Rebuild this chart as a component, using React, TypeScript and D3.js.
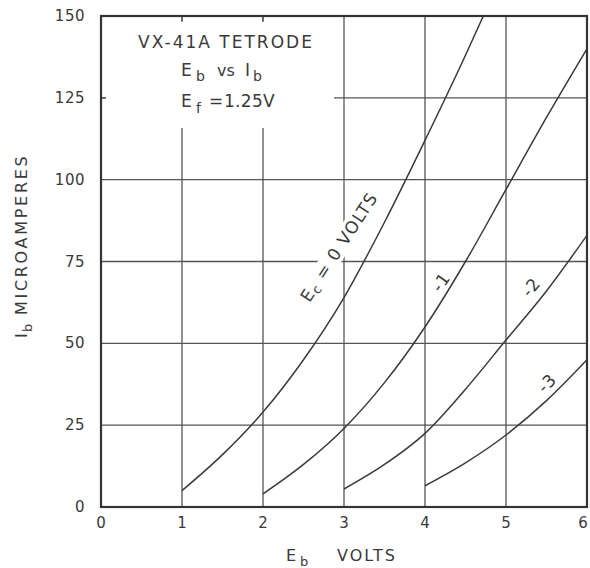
import React from "react";
import * as d3 from "d3";

const xTicks = [0, 1, 2, 3, 4, 5, 6];
const yTicks = [0, 25, 50, 75, 100, 125, 150];

const ec0Eb = [1, 1.5, 2, 2.5, 3, 3.5, 4, 4.5, 4.72];
const ec0Ib = [5, 16, 29, 45, 64, 87, 112, 138, 150];
const ecm1Eb = [2, 2.5, 3, 3.5, 4, 4.5, 5, 5.5, 6];
const ecm1Ib = [4, 13, 24, 38, 55, 75, 97, 119, 140];
const ecm2Eb = [3, 3.5, 4, 4.5, 5, 5.5, 6];
const ecm2Ib = [5.5, 13, 22.5, 36, 51, 66, 83];
const ecm3Eb = [4, 4.5, 5, 5.5, 6];
const ecm3Ib = [6.5, 13.5, 22, 32.5, 45];

const seriesList = [
  { eb: ec0Eb, ib: ec0Ib },
  { eb: ecm1Eb, ib: ecm1Ib },
  { eb: ecm2Eb, ib: ecm2Ib },
  { eb: ecm3Eb, ib: ecm3Ib },
];

const FONT = "'DejaVu Sans', sans-serif";
const INK = "#3a3a3a";

export default function App() {
  const left = 101, right = 587, top = 16, bottom = 507;
  const x = d3.scaleLinear().domain([0, 6]).range([left, right]);
  const y = d3.scaleLinear().domain([0, 150]).range([bottom, top]);
  const line = d3
    .line<[number, number]>()
    .x((d) => x(d[0]))
    .y((d) => y(d[1]))
    .curve(d3.curveMonotoneX);

  const labels = [
    { text: "E", sub: "c", rest: " = 0  VOLTS", cx: 339, cy: 247, rot: -57, w: 120 },
    { text: "-1", cx: 441, cy: 282, rot: -55, w: 24 },
    { text: "-2", cx: 531, cy: 287, rot: -50, w: 26 },
    { text: "-3", cx: 547, cy: 383, rot: -45, w: 26 },
  ];

  return (
    <svg width={590} height={568} style={{ position: "absolute", left: 0, top: 0, background: "#fff" }}>
      <defs>
        <clipPath id="plot">
          <rect x={left} y={top} width={right - left} height={bottom - top} />
        </clipPath>
      </defs>
      <rect x={0} y={0} width={590} height={568} fill="#fff" />
      {/* grid */}
      <g stroke="#555" strokeWidth={1.3}>
        {xTicks.slice(1, -1).map((t) => (
          <line key={"vx" + t} x1={x(t)} x2={x(t)} y1={top} y2={bottom} />
        ))}
        {yTicks.slice(1, -1).map((t) => (
          <line key={"hy" + t} x1={left} x2={right} y1={y(t)} y2={y(t)} />
        ))}
      </g>
      {/* blank area for title */}
      <rect x={106} y={21} width={228} height={107} fill="#fff" />
      {/* blank areas for curve labels */}
      {labels.map((l, i) => (
        <rect
          key={"bg" + i}
          x={-l.w / 2}
          y={-10}
          width={l.w}
          height={20}
          fill="#fff"
          transform={`translate(${l.cx},${l.cy}) rotate(${l.rot})`}
        />
      ))}
      {/* short stubs at title area */}
      <g stroke="#555" strokeWidth={1.3}>
        <line x1={x(1)} x2={x(1)} y1={top} y2={top + 6} />
        <line x1={x(2)} x2={x(2)} y1={top} y2={top + 6} />
        <line x1={left} x2={left + 5} y1={y(125)} y2={y(125)} />
      </g>
      {/* curves */}
      <g clipPath="url(#plot)" fill="none" stroke={INK} strokeWidth={1.5}>
        {seriesList.map((s, i) => (
          <path key={i} d={line(s.eb.map((e, j) => [e, s.ib[j]] as [number, number])) || ""} />
        ))}
      </g>
      {/* frame */}
      <rect x={left} y={top} width={right - left} height={bottom - top} fill="none" stroke="#333" strokeWidth={2.2} />
      {/* curve labels */}
      {labels.map((l, i) => (
        <text
          key={"lb" + i}
          transform={`translate(${l.cx},${l.cy}) rotate(${l.rot})`}
          textAnchor="middle"
          dominantBaseline="central"
          fontFamily={FONT}
          fontSize={17}
          fill={INK}
          letterSpacing={1.2}
        >
          {l.text}
          {l.sub ? <tspan fontSize={13} dy={4}>{l.sub}</tspan> : null}
          {l.rest ? <tspan dy={-4}>{l.rest}</tspan> : null}
        </text>
      ))}
      {/* title block */}
      <g fontFamily={FONT} fill={INK} fontSize={17}>
        <text x={226} y={48} textAnchor="middle" letterSpacing={2}>VX-41A  TETRODE</text>
        <text y={76}>
          <tspan x={181}>E</tspan>
          <tspan x={196} fontSize={14} dy={5}>b</tspan>
          <tspan x={217} dy={-5} fontSize={16}>vs</tspan>
          <tspan x={245}>I</tspan>
          <tspan x={253} fontSize={14} dy={5}>b</tspan>
        </text>
        <text y={107}>
          <tspan x={181}>E</tspan>
          <tspan x={196} fontSize={14} dy={6}>f</tspan>
          <tspan x={209} dy={-6}>=</tspan>
          <tspan x={224} letterSpacing={0.3}>1.25V</tspan>
        </text>
      </g>
      {/* y tick labels */}
      <g fontFamily={FONT} fontSize={15} fill={INK} textAnchor="end">
        {yTicks.map((t) => (
          <text key={"yt" + t} x={85} y={y(t)} dominantBaseline="central" letterSpacing={0.5}>{t}</text>
        ))}
      </g>
      {/* x tick labels */}
      <g fontFamily={FONT} fontSize={15} fill={INK} textAnchor="middle">
        {xTicks.map((t) => (
          <text key={"xt" + t} x={Math.min(x(t), 583)} y={523} dominantBaseline="central">{t}</text>
        ))}
      </g>
      {/* axis titles */}
      <text y={561} fontFamily={FONT} fontSize={16} fill={INK}>
        <tspan x={286}>E</tspan>
        <tspan x={300} fontSize={13} dy={5}>b</tspan>
        <tspan x={337} dy={-5} letterSpacing={2}>VOLTS</tspan>
      </text>
      <text
        transform="translate(27,0) rotate(-90)"
        fontFamily={FONT}
        fontSize={16}
        fill={INK}
      >
        <tspan x={-338}>I</tspan>
        <tspan x={-332} fontSize={13} dy={5}>b</tspan>
        <tspan x={-315} dy={-5} letterSpacing={2.7}>MICROAMPERES</tspan>
      </text>
    </svg>
  );
}
